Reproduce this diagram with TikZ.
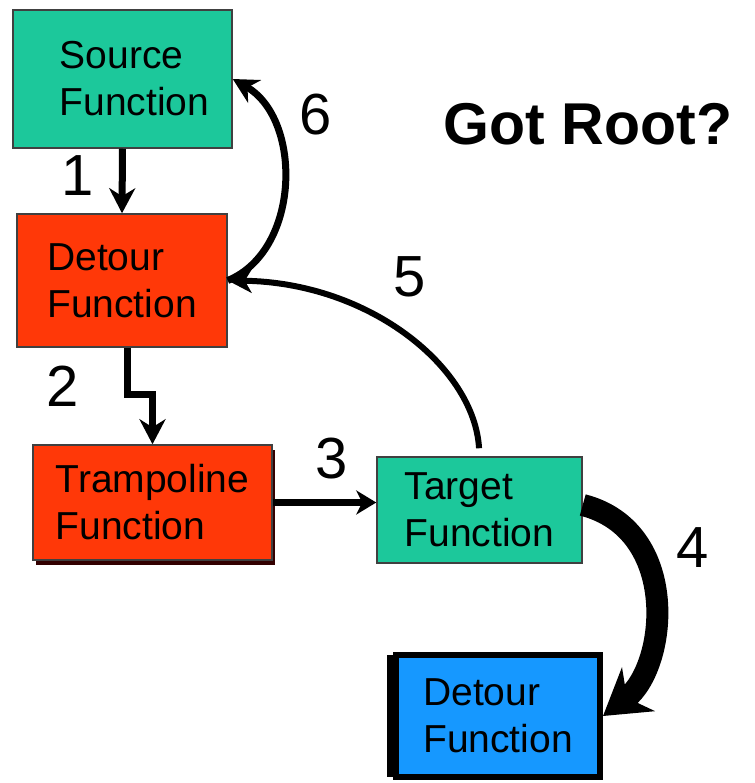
\documentclass[tikz,border=0pt]{standalone}
\usepackage{fontspec}
\setmainfont{Liberation Sans}
\usetikzlibrary{arrows.meta,shadows}

\definecolor{tealfill}{RGB}{28,200,155}
\definecolor{redfill}{RGB}{255,56,8}
\definecolor{bluefill}{RGB}{22,152,255}

\tikzset{
	box/.style={rectangle, draw=black!75, line width=1.5pt, inner sep=0pt, align=left,
		font=\fontsize{39}{47}\selectfont},
	tealbox/.style={box, fill=tealfill},
	redbox/.style={box, fill=redfill},
	arr/.style={line width=7pt, -{Stealth[length=25pt,width=26pt,inset=8pt]}},
	num/.style={font=\fontsize{58}{58}\selectfont}
}

\begin{document}
\begin{tikzpicture}[x=1pt,y=-1pt]
	\useasboundingbox (0,0) rectangle (754,783);
	
	% boxes
	\node[tealbox, minimum width=219pt, minimum height=138pt] (src) at (122.5,79) {\hspace*{24pt}Source\\\hspace*{24pt}Function};
	\node[redbox, minimum width=210pt, minimum height=133pt] (det) at (122,280.5) {Detour\\Function};
	\node[redbox, minimum width=239pt, minimum height=115pt,
		drop shadow={shadow xshift=3pt, shadow yshift=-5pt, fill=black!80!red, opacity=1}] (tramp) at (152.5,502.5) {Trampoline\\Function};
	\node[tealbox, minimum width=205pt, minimum height=106pt] (targ) at (479.5,510) {Target\\Function};
	\node[box, fill=bluefill, draw=black, line width=6pt, minimum width=204pt, minimum height=122pt,
		drop shadow={shadow xshift=-9pt, shadow yshift=0pt, fill=black, opacity=1}] (hook) at (498,716) {Detour\\Function};
	
	\node[font=\bfseries\fontsize{59}{59}\selectfont] (root) at (588,124) {Got Root?};
	
	% steps
	\draw[arr] (src.south) -- (det.north);
	\draw[arr] ([xshift=5pt]det.south) -- ++(0,47) coordinate (kink) -| (tramp.north);
	\draw[arr, -{Stealth[length=20pt,width=24pt,inset=6pt]}] (tramp.east) -- (tramp.east -| targ.west);
	\draw[line width=22pt, -{Stealth[length=44pt,width=54pt,inset=14pt]}]
		([yshift=5pt]targ.east) .. controls +(98,25) and +(65,-49) .. (hook.east);
	\draw[line width=6pt, -{Stealth[length=24pt,width=24pt,inset=7pt]}, shorten <=8pt]
		(targ.north) .. controls +(-5,-88) and +(143,2) .. (det.east);
	\draw[arr] (det.east) .. controls +(73,-30) and +(70,40) .. (src.east);
	
	\node[num] (n1) at (78,176) {1};
	\node[num] (n2) at (63,386) {2};
	\node[num] (n3) at (332,459) {3};
	\node[num] (n4) at (693,548) {4};
	\node[num] (n5) at (410,277) {5};
	\node[num] (n6) at (316,115) {6};
\end{tikzpicture}
\end{document}
